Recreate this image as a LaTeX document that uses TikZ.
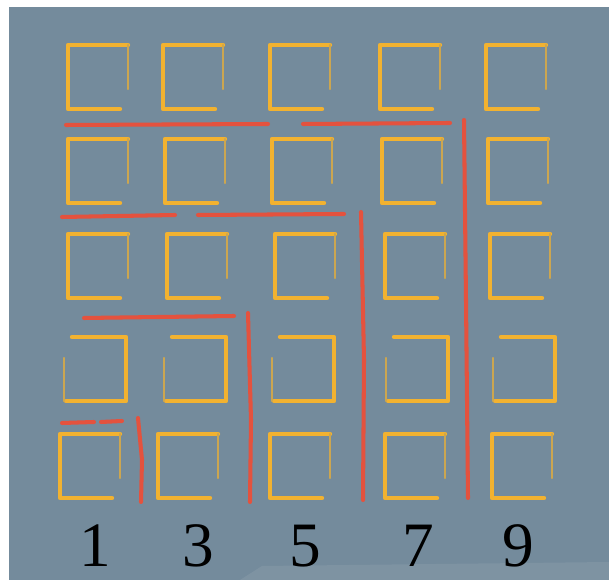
\documentclass[tikz,border=0pt]{standalone}
\usepackage{fontspec}
\setmainfont{Liberation Serif}
\usepackage{xcolor}
\definecolor{board}{RGB}{116, 139, 156}
\definecolor{boardlight}{RGB}{150, 166, 178}
\definecolor{chalkyellow}{RGB}{242, 178, 48}
\definecolor{chalkred}{RGB}{228, 82, 62}

\tikzset{
  chalksq/.style={draw=chalkyellow, line width=2.5pt, line cap=round, line join=round},
  chalkfaint/.style={draw=chalkyellow!70!board, line width=1.3pt, line cap=round},
  gnomon/.style={draw=chalkred, line width=2.3pt, line cap=round},
  oddnum/.style={font=\fontsize{36}{40}\selectfont, text=black, inner sep=1pt}
}

\begin{document}
\begin{tikzpicture}[x=0.02cm, y=-0.02cm]
  \useasboundingbox (0,0) rectangle (609,580);
  % photo of the board
  \fill[white] (0,0) rectangle (609,580);
  \fill[board] (9,7) rectangle (609,580);
  \fill[boardlight, opacity=0.3] (240,580) -- (262,566) -- (609,562) -- (609,580) -- cycle;

  % squares, rows 1-3 and 5 (open at lower right)
  \foreach \y/\xs in {45/{68,163,270,380,486}, 139/{68,165,272,382,488},
                      234/{68,167,275,385,490}, 434/{60,158,270,385,492}} {
    \foreach \x in \xs {
      \draw[chalksq] (\x+60,\y) -- (\x,\y) -- (\x,\y+64) -- (\x+52,\y+64);
      \draw[chalkfaint] (\x+60,\y) -- (\x+60,\y+44);
    }
  }
  % squares, row 4 (open at lower left)
  \foreach \x in {64,164,272,386,493} {
    \draw[chalksq] (\x+8,337) -- (\x+62,337) -- (\x+62,401) -- (\x+2,401);
    \draw[chalkfaint] (\x,401) -- (\x,358);
  }

  % red gnomon borders
  \draw[gnomon] (66,125) -- (268,124);
  \draw[gnomon] (303,124) -- (450,123);
  \draw[gnomon] (464,120) -- (466,300) -- (468,498);
  \draw[gnomon] (62,217) -- (175,215);
  \draw[gnomon] (198,215) -- (344,214);
  \draw[gnomon] (361,212) -- (364,360) -- (363,500);
  \draw[gnomon] (84,318) -- (234,316);
  \draw[gnomon] (248,313) -- (251,420) -- (250,502);
  \draw[gnomon] (62,423) -- (94,422);
  \draw[gnomon] (101,422) -- (122,421);
  \draw[gnomon] (138,418) -- (142,460) -- (141,502);

  % odd numbers
  \node[oddnum] (n1) at (95,546) {1};
  \node[oddnum] (n3) at (198,546) {3};
  \node[oddnum] (n5) at (305,546) {5};
  \node[oddnum] (n7) at (418,546) {7};
  \node[oddnum] (n9) at (518,546) {9};
\end{tikzpicture}
\end{document}
